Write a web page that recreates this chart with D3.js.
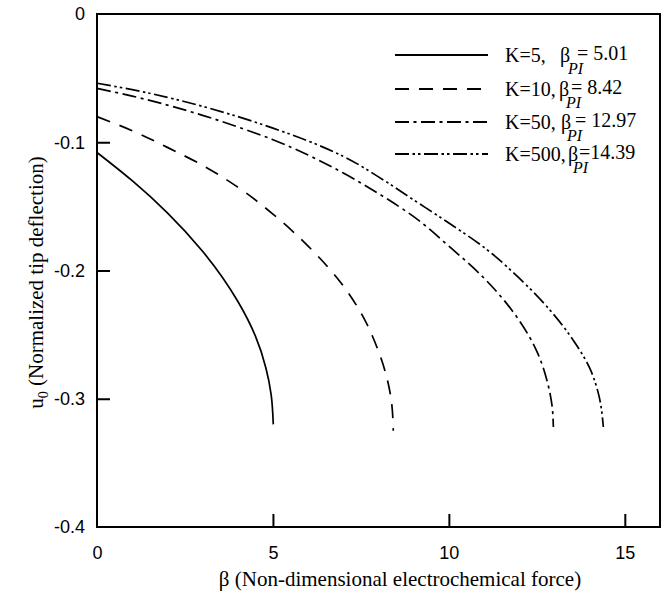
<!DOCTYPE html>
<html>
<head>
<meta charset="utf-8">
<script src="https://cdn.jsdelivr.net/npm/d3@7"></script>
<style>
  html, body { margin: 0; padding: 0; background: #fff; }
  svg { display: block; }
</style>
</head>
<body>
<svg id="chart" width="665" height="600"></svg>
<script>
// ---- data ----
const xTicks = [0, 5, 10, 15];
const yTicks = [0, -0.1, -0.2, -0.3, -0.4];
const yTickLabels = ["0", "-0.1", "-0.2", "-0.3", "-0.4"];
const seriesNames = ["K=5,", "K=10,", "K=50,", "K=500,"];
const betaPI = ["= 5.01", "= 8.42", "= 12.97", "=14.39"];

const betaK5   = [0, 1, 2, 3, 4, 4.5, 4.8, 4.95, 5.01];
const uK5      = [-0.108, -0.130, -0.155, -0.185, -0.224, -0.251, -0.276, -0.297, -0.320];
const betaK10  = [0, 1, 2, 3, 4, 5, 6, 7, 7.5, 8, 8.25, 8.38, 8.42];
const uK10     = [-0.080, -0.091, -0.104, -0.118, -0.135, -0.156, -0.181, -0.212, -0.233, -0.263, -0.285, -0.305, -0.325];
const betaK50  = [0, 1, 2, 3, 4, 5, 6, 7, 8, 9, 10, 11, 12, 12.5, 12.8, 12.93, 12.97];
const uK50     = [-0.058, -0.064, -0.071, -0.079, -0.088, -0.098, -0.110, -0.124, -0.140, -0.158, -0.181, -0.206, -0.239, -0.263, -0.287, -0.305, -0.322];
const betaK500 = [0, 1, 2, 3, 4, 5, 6, 7, 8, 9, 10, 11, 12, 13, 13.5, 14, 14.25, 14.39];
const uK500    = [-0.054, -0.059, -0.065, -0.072, -0.080, -0.089, -0.099, -0.111, -0.127, -0.145, -0.163, -0.182, -0.206, -0.235, -0.253, -0.276, -0.296, -0.322];

const series = [
  { beta: betaK5,   u: uK5,   dash: null },
  { beta: betaK10,  u: uK10,  dash: "14,10" },
  { beta: betaK50,  u: uK50,  dash: "14,4.5,3,4.5" },
  { beta: betaK500, u: uK500, dash: "14,3.5,2.5,3,2.5,3.5" }
];

// ---- layout ----
const svg = d3.select("#chart");
const L = 97, R = 660, T = 14, B = 527;
const x = d3.scaleLinear().domain([0, 16]).range([L, R]);
const y = d3.scaleLinear().domain([-0.4, 0]).range([B, T]);

const sans = "Arial, 'Liberation Sans', sans-serif";
const serif = "'Times New Roman', 'Liberation Serif', serif";

// ---- axes (ticks inward) ----
const xAxis = d3.axisBottom(x).tickValues(xTicks).tickSize(-13).tickPadding(20).tickFormat(d3.format("d"));
const gx = svg.append("g").attr("transform", `translate(0,${B})`).call(xAxis);
gx.select(".domain").remove();
gx.selectAll(".tick line").attr("stroke", "#000").attr("stroke-width", 2);
gx.selectAll(".tick text").attr("font-family", sans).attr("font-size", 18).attr("fill", "#000").attr("dy", "0.71em").attr("y", 19);
gx.selectAll(".tick").filter(d => d === 0).select("line").remove();

const yAxis = d3.axisLeft(y).tickValues(yTicks).tickSize(-13).tickPadding(12)
  .tickFormat((d, i) => yTickLabels[i]);
const gy = svg.append("g").attr("transform", `translate(${L},0)`).call(yAxis);
gy.select(".domain").remove();
gy.selectAll(".tick line").attr("stroke", "#000").attr("stroke-width", 2);
gy.selectAll(".tick text").attr("font-family", sans).attr("font-size", 18).attr("fill", "#000").attr("x", -12);
gy.selectAll(".tick").filter(d => d === 0 || d === -0.4).select("line").remove();

// frame
svg.append("rect").attr("x", L).attr("y", T).attr("width", R - L).attr("height", B - T)
  .attr("fill", "none").attr("stroke", "#000").attr("stroke-width", 2);

// ---- curves ----
const line = d3.line().x(d => x(d[0])).y(d => y(d[1])).curve(d3.curveMonotoneY);
series.forEach(s => {
  const pts = s.beta.map((b, i) => [b, s.u[i]]);
  svg.append("path").attr("d", line(pts)).attr("fill", "none").attr("stroke", "#000")
    .attr("stroke-width", 1.7).attr("stroke-dasharray", s.dash);
});

// ---- legend (one text element per row; subscript drawn below the β) ----
const legY = [55, 89, 122, 154];
const nameX = 505;
const betaX = [560, 559, 561, 568];
const piX = [568, 566, 567, 573];
const eqX = [577, 571, 575, 579];
series.forEach((s, i) => {
  svg.append("line").attr("x1", 395).attr("x2", 488).attr("y1", legY[i]).attr("y2", legY[i])
    .attr("stroke", "#000").attr("stroke-width", 2).attr("stroke-dasharray", s.dash);
  const t = svg.append("text").attr("x", nameX).attr("y", legY[i] + 7)
    .attr("font-family", serif).attr("font-size", 20);
  t.append("tspan").text(seriesNames[i]);
  t.append("tspan").attr("x", betaX[i]).text("β");
  t.append("tspan").attr("x", piX[i]).attr("dy", 12).attr("font-size", 16)
    .attr("font-style", "italic").text("PI");
  t.append("tspan").attr("x", eqX[i]).attr("dy", -14).text(betaPI[i]);
});

// ---- axis titles ----
svg.append("text").attr("x", 400).attr("y", 586).attr("text-anchor", "middle")
  .attr("font-family", serif).attr("font-size", 21).text("β (Non-dimensional electrochemical force)");

const yt = svg.append("text").attr("transform", `translate(43,${(T + B) / 2 + 12}) rotate(-90)`)
  .attr("text-anchor", "middle").attr("font-family", serif).attr("font-size", 21);
yt.append("tspan").text("u");
yt.append("tspan").attr("font-size", 14).attr("dy", 5).text("0");
yt.append("tspan").attr("dy", -5).text(" (Normalized tip deflection)");
</script>
</body>
</html>
